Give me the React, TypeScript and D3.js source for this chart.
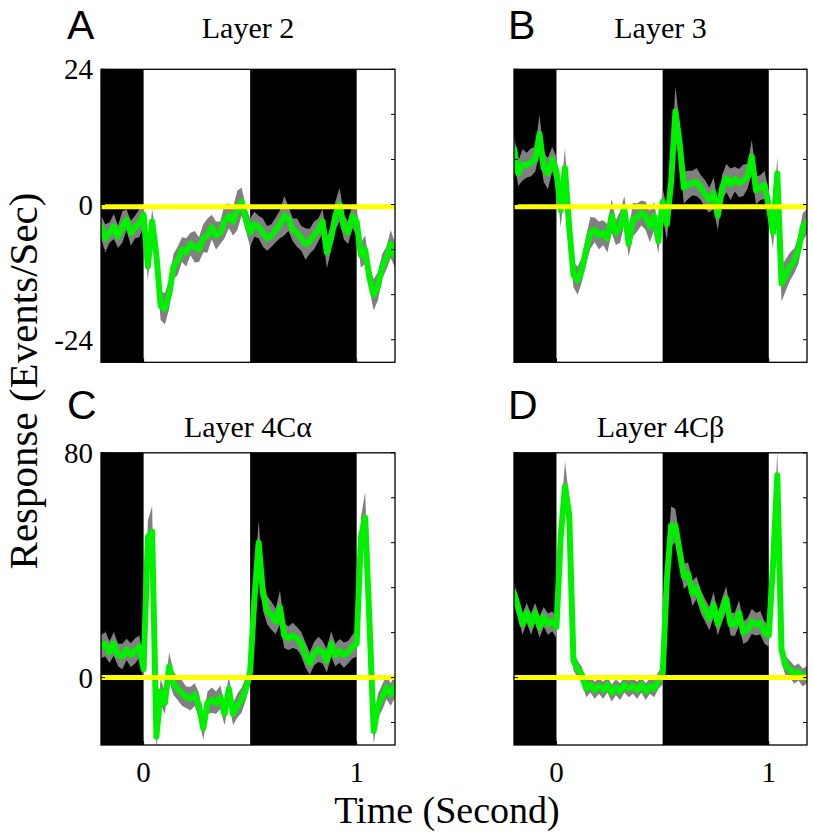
import React from "react";
import * as d3 from "d3";

// ---------- data ----------
const TIME = [
  -0.2, -0.18, -0.16, -0.14, -0.12, -0.1, -0.08, -0.06, -0.04, -0.02,
  0.0, 0.02, 0.04, 0.06, 0.08, 0.1, 0.12, 0.14, 0.16, 0.18,
  0.2, 0.22, 0.24, 0.26, 0.28, 0.3, 0.32, 0.34, 0.36, 0.38,
  0.4, 0.42, 0.44, 0.46, 0.48, 0.5, 0.52, 0.54, 0.56, 0.58,
  0.6, 0.62, 0.64, 0.66, 0.68, 0.7, 0.72, 0.74, 0.76, 0.78,
  0.8, 0.82, 0.84, 0.86, 0.88, 0.9, 0.92, 0.94, 0.96, 0.98,
  1.0, 1.02, 1.04, 1.06, 1.08, 1.1, 1.12, 1.14, 1.16, 1.18,
];

const LAYER2_MEAN = [
  -3.9, -6, -5, -3.9, -5.7, -4, -2.7, -5.1, -4, -3.3,
  -1.8, -11, -3, -9, -18, -18.5, -16, -11, -10, -8,
  -8.5, -7, -7.5, -8, -6, -5.5, -4, -5.5, -5, -3,
  -2, -3, -1, 0.5, -2.5, -5, -3.5, -4, -5, -6,
  -5.5, -4.5, -3.5, -2, -2.5, -4.5, -5, -6, -7, -6.5,
  -5.5, -4.5, -3, -8.5, -6, -2, 0, -4, -5, -2,
  -3, -9, -8, -13, -16, -14.5, -11, -9.5, -7, -9,
];
const LAYER2_SEM = [
  2, 2.5, 1.8, 2.2, 2, 2.8, 1.8, 2.2, 2, 2.5,
  2, 2.5, 2.2, 3, 2.5, 2.8, 2.5, 2.2, 2.5, 2.2,
  2.5, 2, 2.8, 2.2, 2.5, 3, 2.2, 2.5, 2, 3,
  2.2, 2.5, 3.5, 2.5, 2.2, 2.5, 2.2, 2, 2.5, 2.2,
  2, 2.2, 2.5, 3.5, 2.2, 2, 2.5, 2.2, 2.8, 2.2,
  2.5, 2, 2.2, 2.8, 2.2, 2.5, 3, 2.2, 2, 2.2,
  2.5, 2.2, 2.5, 2.2, 2.8, 2.5, 2.2, 2, 2.5, 2.2,
];

const LAYER3_MEAN = [
  10, 5.5, 7, 7, 7.5, 8, 12.5, 6.5, 5.5, 8,
  6, -1, 6.5, -4, -12.5, -13.5, -11.5, -8, -5, -4.5,
  -5.5, -5, -6, -2, -5, -4, -1, -7, -2.7, -2.3,
  -1.5, -2, -3.9, -2, -6.5, 0.5, -3.5, 4, 16.5, 11,
  3, 3.5, 3.8, 4, 3, 1.8, 0.8, 2, -2, 3,
  4.7, 3.6, 4.5, 3.8, 4.3, 5, 8.5, 2.5, 3, 3.5,
  -0.3, -5, 5.5, -14, -12.5, -11, -10, -8, -4, -3,
];
const LAYER3_SEM = [
  2.5, 2.2, 2.8, 2.2, 2.5, 2.2, 3.5, 2.5, 2.8, 2.2,
  2.5, 3, 3.5, 2.5, 2.2, 2.5, 2.2, 2.5, 2.8, 2.2,
  2.5, 2.2, 2.5, 3, 2.2, 2.8, 2.5, 2.2, 3, 2.5,
  2.2, 2.5, 2.8, 2.5, 2.2, 2.5, 2.8, 3, 4.5, 3.5,
  2.8, 2.5, 2.2, 2.5, 2.2, 2.5, 2.2, 2.8, 2.5, 2.2,
  2.5, 2.8, 2.2, 2.5, 2.8, 2.2, 3, 2.5, 2.2, 2.5,
  2.5, 2.8, 3, 3.2, 2.8, 2.5, 2.2, 2.5, 2.5, 2.2,
];

const LAYER4CA_MEAN = [
  11, 12, 9, 12, 8, 7.5, 10, 8, 9.5, 11,
  3, 50, 52, -21, -5, -9, 4, -2, -4, -5.5,
  -7, -7.5, -6, -10, -18, -9, -8, -9, -7, -13,
  -4, -13, -10, -8, -4, 2, 28, 48, 30, 24,
  22, 20, 25, 15, 14, 15, 14, 12, 8, 5,
  8.5, 10, 9, 6, 12, 8, 9.5, 8, 9, 11,
  12, 50, 57, 20, -19, -10, -7, -3.5, -6, -3,
];
const LAYER4CA_SEM = [
  4, 4.5, 3.8, 4.2, 4, 4.5, 3.8, 4.2, 4.5, 4,
  4, 6, 9, 5, 4.5, 4, 5, 4.2, 4, 4.5,
  3.8, 4.2, 4, 4.5, 4.2, 4, 4.5, 4, 4.2, 4,
  4.5, 4, 4.2, 4.5, 4, 4.5, 6, 8, 6, 5,
  5, 4.5, 6, 4.5, 4.2, 4.5, 4, 4.2, 4.5, 4,
  4.2, 4.5, 4, 4.2, 4.5, 4, 4.2, 4.5, 4, 4.2,
  4.5, 7, 9, 6, 4.5, 4.2, 4.5, 4.2, 4, 4.2,
];

const LAYER4CB_MEAN = [
  30, 25, 19, 23, 19, 23, 18, 21.6, 19, 20,
  18, 50, 68, 58, 6, 3, 1, -4, -2.5, -4.5,
  -3, -4.5, -2.5, -5.5, -3.5, -5, -2.5, -4, -3, -4.5,
  -2.5, -5, -3, -4, -1, 1, 35, 54, 54, 45,
  36, 37, 30, 32, 27, 24, 21, 26, 19, 24,
  28, 19, 19, 23, 16, 17, 20, 19, 19.5, 16,
  15, 40, 72, 10, 4, 3, 1, 2, 0, 1,
];
const LAYER4CB_SEM = [
  4, 3.5, 3.8, 3.5, 3.8, 3.5, 3.8, 3.5, 3.8, 3.5,
  4, 6, 9, 6, 3.5, 3, 2.8, 3, 2.8, 3,
  2.8, 3, 2.8, 3, 2.8, 3, 2.8, 3, 2.8, 3,
  2.8, 3, 2.8, 3, 3, 3.5, 5, 7, 6, 5,
  4.5, 4, 4.5, 4, 4.2, 4, 4.2, 4.5, 4, 4.2,
  4.5, 4, 4.2, 4.5, 4, 4.2, 4.5, 4, 4.2, 4,
  4, 6, 9, 5, 3.5, 3, 3.2, 3, 3.2, 3,
];

const TITLES = ["Layer 2", "Layer 3", "Layer 4C\u03b1", "Layer 4C\u03b2"];
const LETTERS = ["A", "B", "C", "D"];
const X_DOMAIN = [-0.2, 1.18];
const X_TICKS = [0, 1];
const DARK_INTERVALS = [
  [-0.2, 0],
  [0.5, 1.0],
];
const ROW1_Y_DOMAIN = [-28, 24];
const ROW1_Y_TICKS = [24, 16, 8, 0, -8, -16, -24];
const ROW1_Y_LABELS = [24, 0, -24];
const ROW1_BASELINE = -0.4;
const ROW2_Y_DOMAIN = [-24, 80];
const ROW2_Y_TICKS = [80, 64, 48, 32, 16, 0, -16];
const ROW2_Y_LABELS = [80, 0];
const ROW2_BASELINE = 0;

// ---------- layout ----------
const W = 813;
const H = 835;
const COLS = [
  { left: 101, right: 395 },
  { left: 514, right: 807 },
];
const ROWS = [
  { top: 69.3, bottom: 362.3, titleY: 37.5, letterY: 38.5 },
  { top: 452.8, bottom: 745, titleY: 437, letterY: 418.5 },
];

const SERIF = "'Liberation Serif', 'Times New Roman', serif";
const SANS = "'Liberation Sans', Arial, sans-serif";

type PanelProps = {
  idx: number;
  mean: number[];
  sem: number[];
  yDomain: number[];
  yTicks: number[];
  yLabels: number[];
  baseline: number;
  col: number;
  row: number;
};

function Panel({ idx, mean, sem, yDomain, yTicks, yLabels, baseline, col, row }: PanelProps) {
  const c = COLS[col];
  const r = ROWS[row];
  const x = d3.scaleLinear().domain(X_DOMAIN).range([c.left, c.right]);
  const y = d3.scaleLinear().domain(yDomain).range([r.bottom, r.top]);
  const pts = TIME.map((t, i) => ({ t, m: mean[i], s: sem[i] }));
  const area = d3
    .area<any>()
    .x((d) => x(d.t))
    .y0((d) => y(d.m - d.s))
    .y1((d) => y(d.m + d.s));
  const line = d3
    .line<any>()
    .x((d) => x(d.t))
    .y((d) => y(d.m));
  const clipId = `clip${idx}`;
  const showYLabels = col === 0;
  const showXLabels = row === 1;
  const tickLen = 4;
  return (
    <g>
      <defs>
        <clipPath id={clipId}>
          <rect x={c.left} y={r.top} width={c.right - c.left} height={r.bottom - r.top} />
        </clipPath>
      </defs>
      <rect x={c.left} y={r.top} width={c.right - c.left} height={r.bottom - r.top} fill="#fff" />
      {DARK_INTERVALS.map((iv, k) => (
        <rect
          key={k}
          x={x(iv[0])}
          y={r.top}
          width={x(iv[1]) - x(iv[0])}
          height={r.bottom - r.top}
          fill="#000"
        />
      ))}
      <g clipPath={`url(#${clipId})`}>
        <path d={area(pts) || ""} fill="#808080" stroke="none" />
        <path
          d={line(pts) || ""}
          fill="none"
          stroke="#00f000"
          strokeWidth={6}
          strokeLinejoin="round"
          strokeLinecap="round"
        />
        <line
          x1={c.left}
          x2={c.right}
          y1={y(baseline)}
          y2={y(baseline)}
          stroke="#ffff00"
          strokeWidth={5}
        />
      </g>
      {yTicks.map((v) => (
        <g key={v}>
          <line x1={c.left} x2={c.left + tickLen} y1={y(v)} y2={y(v)} stroke="#000" strokeWidth={1} />
          <line x1={c.right} x2={c.right - tickLen} y1={y(v)} y2={y(v)} stroke="#000" strokeWidth={1} />
        </g>
      ))}
      {X_TICKS.map((v) => (
        <line key={v} x1={x(v)} x2={x(v)} y1={r.bottom} y2={r.bottom - tickLen} stroke="#000" strokeWidth={1} />
      ))}
      <rect
        x={c.left}
        y={r.top}
        width={c.right - c.left}
        height={r.bottom - r.top}
        fill="none"
        stroke="#000"
        strokeWidth={1.3}
      />
      {showYLabels &&
        yLabels.map((v) => (
          <text
            key={v}
            x={c.left - 8}
            y={y(v) + 10}
            textAnchor="end"
            fontFamily={SERIF}
            fontSize={29}
            fill="#000"
          >
            {v}
          </text>
        ))}
      {showXLabels &&
        X_TICKS.map((v) => (
          <text
            key={v}
            x={x(v)}
            y={782}
            textAnchor="middle"
            fontFamily={SERIF}
            fontSize={29}
            fill="#000"
          >
            {v}
          </text>
        ))}
      <text
        x={(c.left + c.right) / 2}
        y={r.titleY}
        textAnchor="middle"
        fontFamily={SERIF}
        fontSize={30}
        fill="#000"
      >
        {TITLES[idx]}
      </text>
      <text
        x={col === 0 ? 67 : 508}
        y={r.letterY}
        fontFamily={SANS}
        fontSize={41}
        fill="#000"
      >
        {LETTERS[idx]}
      </text>
    </g>
  );
}

export default function App() {
  return (
    <svg
      width={W}
      height={H}
      style={{ position: "absolute", left: 0, top: 0, background: "#fff" }}
      xmlns="http://www.w3.org/2000/svg"
    >
      <rect x={0} y={0} width={W} height={H} fill="#fff" />
      <Panel idx={0} mean={LAYER2_MEAN} sem={LAYER2_SEM} yDomain={ROW1_Y_DOMAIN} yTicks={ROW1_Y_TICKS} yLabels={ROW1_Y_LABELS} baseline={ROW1_BASELINE} col={0} row={0} />
      <Panel idx={1} mean={LAYER3_MEAN} sem={LAYER3_SEM} yDomain={ROW1_Y_DOMAIN} yTicks={ROW1_Y_TICKS} yLabels={ROW1_Y_LABELS} baseline={ROW1_BASELINE} col={1} row={0} />
      <Panel idx={2} mean={LAYER4CA_MEAN} sem={LAYER4CA_SEM} yDomain={ROW2_Y_DOMAIN} yTicks={ROW2_Y_TICKS} yLabels={ROW2_Y_LABELS} baseline={ROW2_BASELINE} col={0} row={1} />
      <Panel idx={3} mean={LAYER4CB_MEAN} sem={LAYER4CB_SEM} yDomain={ROW2_Y_DOMAIN} yTicks={ROW2_Y_TICKS} yLabels={ROW2_Y_LABELS} baseline={ROW2_BASELINE} col={1} row={1} />
      <text
        x={447}
        y={823}
        textAnchor="middle"
        fontFamily={SERIF}
        fontSize={38}
        fill="#000"
      >
        Time (Second)
      </text>
      <text
        transform="translate(37,381) rotate(-90)"
        textAnchor="middle"
        fontFamily={SERIF}
        fontSize={41}
        fill="#000"
      >
        Response (Events/Sec)
      </text>
    </svg>
  );
}
